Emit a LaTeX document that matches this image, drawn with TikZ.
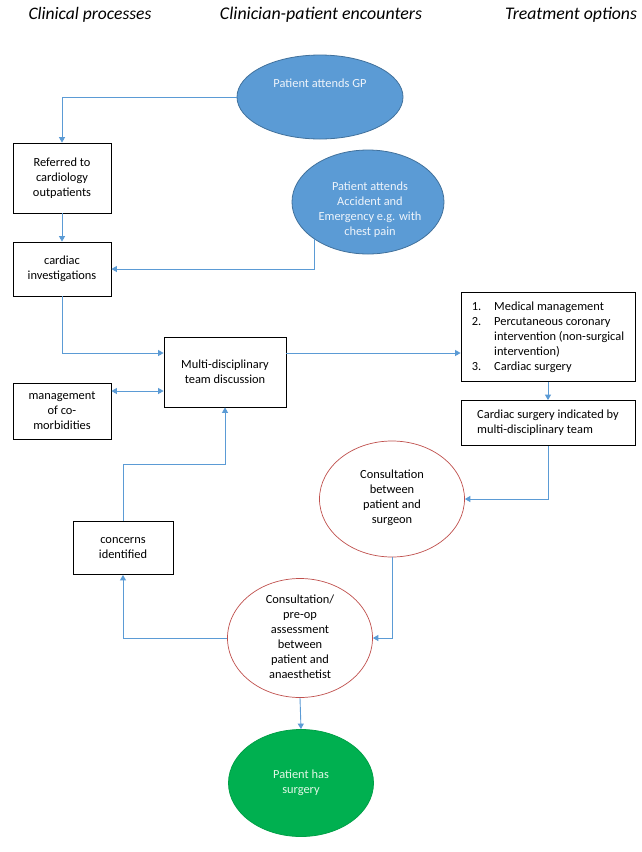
\documentclass[tikz,border=0pt]{standalone}
\usepackage{fontspec}
\setmainfont{Carlito}
\usetikzlibrary{arrows.meta,shapes.geometric}
\definecolor{arrc}{HTML}{5B9BD5}
\definecolor{bfill}{HTML}{5B9BD5}
\definecolor{bdraw}{HTML}{41719C}
\definecolor{gfill}{HTML}{00B050}
\definecolor{gdraw}{HTML}{00A047}
\definecolor{rdraw}{HTML}{C0504D}
\definecolor{btext}{HTML}{EEF4FB}
\definecolor{gtext}{HTML}{E2F7E6}
\begin{document}
\begin{tikzpicture}[x=1pt,y=-1pt,
  txt/.style={font=\fontsize{12.4}{15}\selectfont, align=center, inner sep=0pt},
  hdr/.style={font=\fontsize{16}{18}\selectfont\itshape, inner sep=0pt},
  pbox/.style={draw=black, line width=0.8pt, fill=white, inner sep=0pt, align=center,
     font=\fontsize{12.4}{15}\selectfont},
  bell/.style={ellipse, draw=bdraw, line width=0.8pt, fill=bfill, inner sep=0pt},
  gell/.style={ellipse, draw=gdraw, line width=0.8pt, fill=gfill, inner sep=0pt},
  rell/.style={ellipse, draw=rdraw, line width=0.7pt, fill=white, inner sep=0pt},
  arr/.style={draw=arrc, line width=0.9pt, -{Triangle[width=6pt,length=5.5pt]}},
  darr/.style={draw=arrc, line width=0.9pt, {Triangle[width=6pt,length=5.5pt]}-{Triangle[width=6pt,length=5.5pt]}}
]
\useasboundingbox (0,0) rectangle (642,852);
\fill[white] (0,0) rectangle (642,852);

% headers
\node[hdr] (h1) at (90,15) {\resizebox{123pt}{!}{Clinical processes}};
\node[hdr] (h2) at (321,15) {\resizebox{202pt}{!}{Clinician-patient encounters}};
\node[hdr] (h3) at (571,15) {\resizebox{132pt}{!}{Treatment options}};

% boxes
\node[pbox, minimum width=98pt, minimum height=70pt] (ref) at (62,178) {Referred to\\cardiology\\outpatients};
\node[pbox, minimum width=98pt, minimum height=54pt] (ci) at (62,269) {cardiac\\investigations};
\node[pbox, minimum width=122pt, minimum height=70pt] (mdt) at (225,372) {Multi-disciplinary\\team discussion};
\node[pbox, minimum width=98pt, minimum height=56pt] (mgmt) at (62,411) {management\\of co-\\morbidities};
\node[pbox, minimum width=100pt, minimum height=53pt] (conc) at (123,548) {concerns\\identified};
\node[pbox, minimum width=174pt, minimum height=89pt, align=left] (treat) at (548,337)
  {\begin{tabular}{@{}l@{\hspace{13pt}}l@{}}1. & Medical management\\ 2. & Percutaneous coronary\\ & intervention (non-surgical\\ & intervention)\\ 3. & Cardiac surgery\end{tabular}};
\node[pbox, minimum width=174pt, minimum height=45pt, align=left] (csi) at (548,423)
  {\begin{tabular}{@{}l@{}}Cardiac surgery indicated by\\ multi-disciplinary team\end{tabular}};

% ellipses
\node[bell, minimum width=166pt, minimum height=84pt] (gp) at (320,97) {};
\node[txt, text=btext] (gpt) at (320,83) {Patient attends GP};
\node[bell, minimum width=152pt, minimum height=104pt] (ae) at (368,202) {};
\node[txt, text=btext] (aet) at (370,210) {Patient attends\\Accident and\\Emergency e.g. with\\chest pain};
\node[rell, minimum width=145pt, minimum height=116pt] (cons) at (392,499) {};
\node[txt] (const) at (392,498) {Consultation\\between\\patient and\\surgeon};
\node[rell, minimum width=145pt, minimum height=119pt] (pre) at (300,638) {};
\node[txt] (pret) at (300,637) {Consultation/\\pre-op\\assessment\\between\\patient and\\anaesthetist};
\node[gell, minimum width=145pt, minimum height=107pt] (surg) at (301,783) {};
\node[txt, text=gtext] (surgt) at (301,783) {Patient has\\surgery};

% connectors
\draw[arr] (gp.west) -| (ref.north);
\draw[arr] (ref.south) -- (ci.north);
\draw[arr] (ae.south west) |- (ci.east);
\draw[arr] (ci.south) |- ([yshift=19pt]mdt.west);
\draw[darr] ([yshift=20pt]mgmt.east) -- ([yshift=20pt]mgmt.east -| mdt.west);
\draw[arr] ([yshift=19pt]mdt.east) -- ([yshift=19pt]mdt.east -| treat.west);
\draw[arr] (treat.south) -- (csi.north);
\draw[arr] (csi.south) |- (cons.east);
\draw[arr] (cons.south) |- (pre.east);
\draw[arr] (pre.west) -| (conc.south);
\draw[arr] (conc.north) -- ++(0,-57) -| (mdt.south);
\draw[arr] (pre.south) -- (surg.north);
\end{tikzpicture}
\end{document}
